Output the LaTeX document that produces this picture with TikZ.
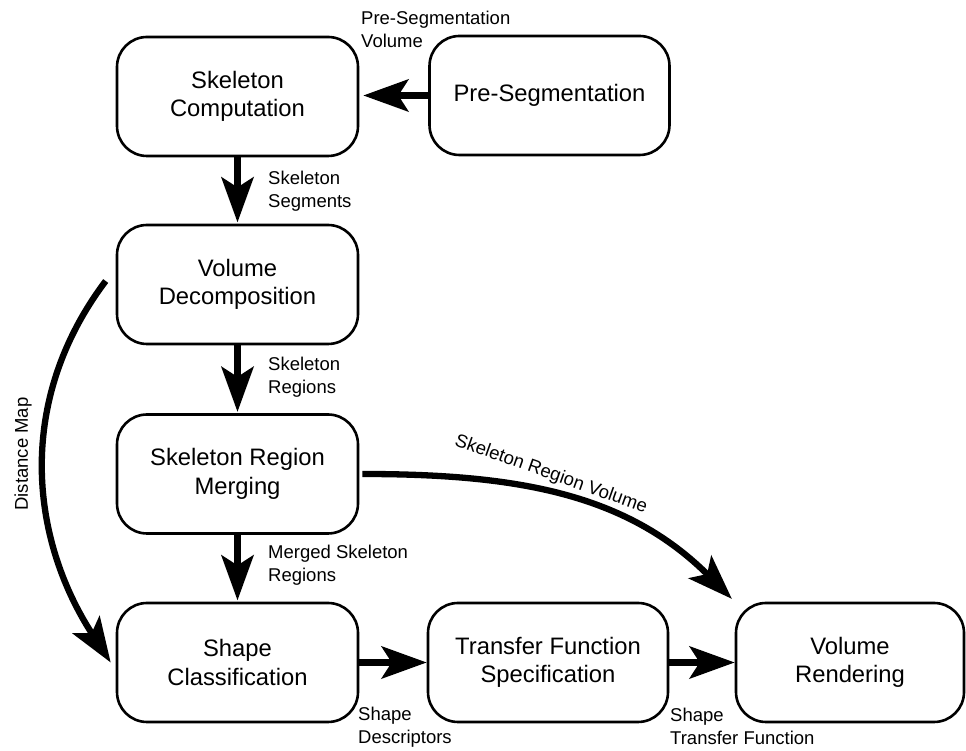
\documentclass[tikz,border=0pt]{standalone}
\usepackage{fontspec}
\setmainfont{Liberation Sans}
\usetikzlibrary{arrows.meta,calc}

\begin{document}
\begin{tikzpicture}[x=1pt,y=1pt,
  stage/.style={draw=black, line width=2.6pt, rounded corners=30pt,
    minimum width=241pt, minimum height=119pt, inner sep=0pt,
    align=center, font=\fontsize{23.8}{28.5}\selectfont},
  bigtip/.style={-{Stealth[length=45pt,width=32pt,inset=10pt]}},
  flow/.style={bigtip, line width=6.8pt},
  flowcurve/.style={bigtip, line width=6.3pt},
  tag/.style={anchor=base west, inner sep=0pt, font=\fontsize{18.5}{22.7}\selectfont},
]
\useasboundingbox (0,0) rectangle (966,751);

% processing stages
\node[stage] (SCmp)   at (237.5,654.5) {Skeleton\\Computation};
\node[stage, minimum width=240pt] (PreSeg) at (549.5,655.5) {Pre-Segmentation};
\node[stage] (VD)     at (237.5,466.5) {Volume\\Decomposition};
\node[stage] (SRM)    at (237.5,277)   {Skeleton Region\\Merging};
\node[stage] (SC)     at (237.5,88.5)  {Shape\\Classification};
\node[stage, minimum width=240pt] (TF) at (548,88.5) {Transfer Function\\Specification};
\node[stage, minimum width=228pt] (VR) at (850,88.5) {Volume\\Rendering};

% data flow
\draw[flow, shorten >=4pt] (PreSeg.west) -- (PreSeg.west -| SCmp.east);
\draw[flow, shorten >=1.3pt] (SCmp) -- (VD);
\draw[flow, shorten >=1.3pt] (VD) -- (SRM);
\draw[flow, shorten >=1.3pt] (SRM) -- (SC);
\draw[flow] (SC) -- (TF);
\draw[flow] (TF) -- (VR);
\draw[flowcurve] ([xshift=-10pt,yshift=3.5pt]VD.west) to[out=233,in=123] ([xshift=-5pt]SC.west);
\draw[flowcurve, shorten >=4pt] ([xshift=3pt]SRM.east) to[out=0,in=135] (VR.north west);

% data labels
\node[tag] (lPSV) at (361,726) {\begin{tabular}[t]{@{}l@{}}Pre-Segmentation\\Volume\end{tabular}};
\node[tag] (lSS)  at (268,566) {\begin{tabular}[t]{@{}l@{}}Skeleton\\Segments\end{tabular}};
\node[tag] (lSR)  at (268,380) {\begin{tabular}[t]{@{}l@{}}Skeleton\\Regions\end{tabular}};
\node[tag] (lMSR) at (268,192) {\begin{tabular}[t]{@{}l@{}}Merged Skeleton\\Regions\end{tabular}};
\node[tag] (lSD)  at (358,30)  {\begin{tabular}[t]{@{}l@{}}Shape\\Descriptors\end{tabular}};
\node[tag] (lSTF) at (670,29)  {\begin{tabular}[t]{@{}l@{}}Shape\\Transfer Function\end{tabular}};
\node[tag, anchor=center, rotate=-19.6] (lSRV) at (551,276.5) {Skeleton Region Volume};
\node[tag, anchor=base, rotate=90] (lDM) at (28,297) {Distance Map};
\end{tikzpicture}
\end{document}
